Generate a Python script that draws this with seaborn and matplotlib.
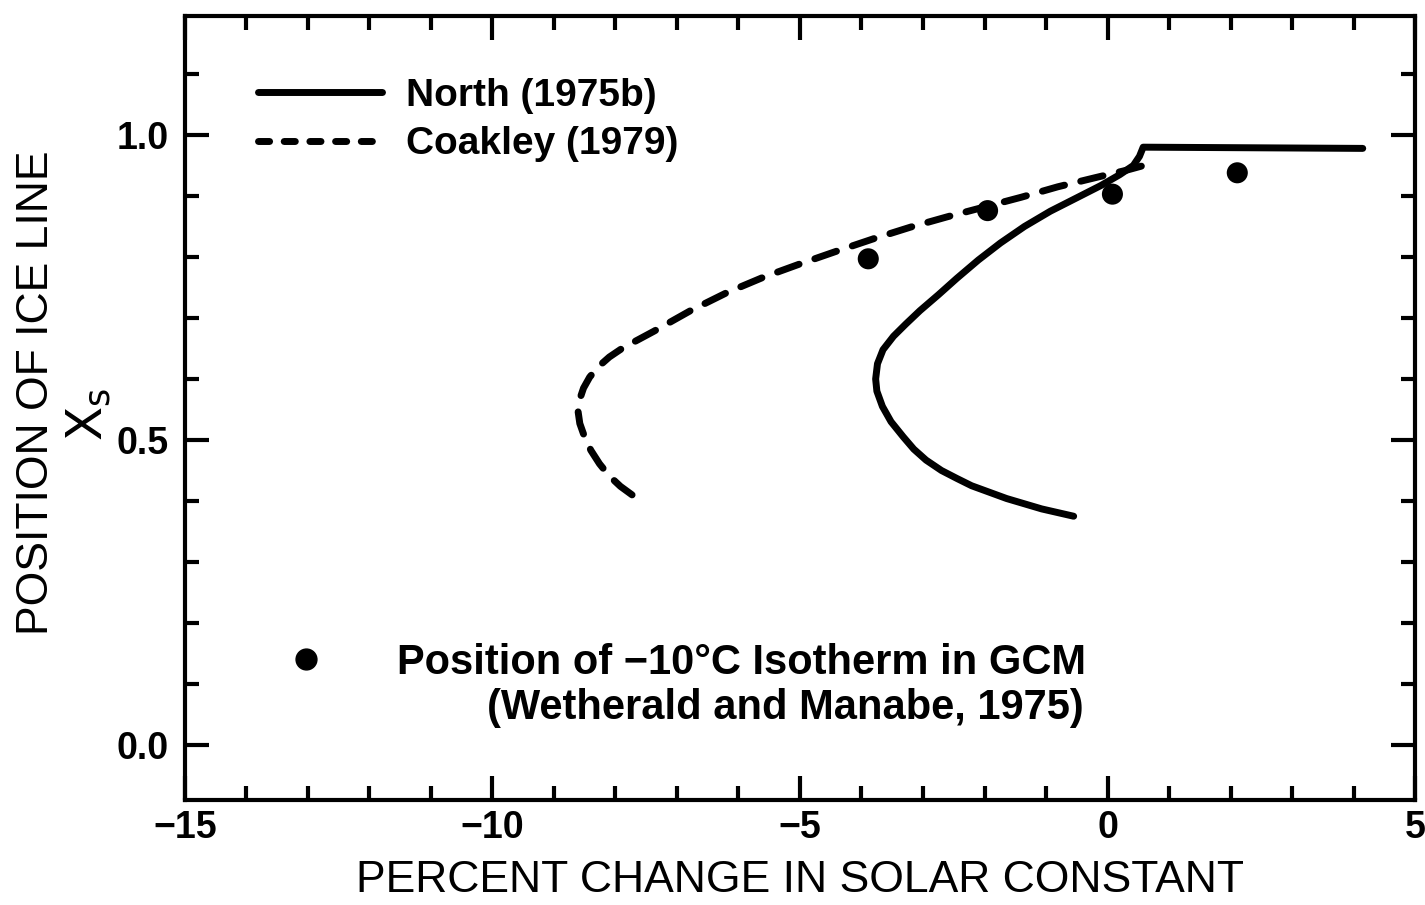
import numpy as np
import seaborn as sns
import matplotlib.pyplot as plt
from matplotlib.lines import Line2D
from matplotlib.ticker import MultipleLocator, FormatStrFormatter

# North (1975b) energy-balance solution (bottom branch -> top -> plateau)
north_x = [-0.55, -1.07, -1.64, -2.21, -2.45, -2.70, -2.95, -3.15, -3.32, -3.52, -3.66,
           -3.75, -3.77, -3.74, -3.65, -3.48, -3.28, -3.05, -2.75, -2.45, -2.10, -1.74,
           -1.35, -0.93, -0.50, -0.11, 0.20, 0.42, 0.52, 0.58, 4.15]
north_y = [0.375, 0.387, 0.404, 0.425, 0.437, 0.450, 0.467, 0.485, 0.505, 0.530, 0.555,
           0.580, 0.600, 0.625, 0.648, 0.670, 0.690, 0.712, 0.738, 0.765, 0.795, 0.823,
           0.850, 0.875, 0.897, 0.917, 0.935, 0.950, 0.965, 0.980, 0.978]

# Coakley (1979)
coakley_x = [-7.73, -7.92, -8.10, -8.26, -8.40, -8.51, -8.58, -8.61, -8.58, -8.52, -8.42,
             -8.28, -8.10, -7.88, -7.62, -7.38, -6.78, -6.18, -5.59, -4.99, -4.39, -3.80,
             -3.20, -2.60, -2.00, -1.40, -0.81, -0.20, 0.30, 0.70]
coakley_y = [0.410, 0.424, 0.441, 0.461, 0.483, 0.507, 0.527, 0.548, 0.567, 0.585, 0.603,
             0.620, 0.636, 0.651, 0.665, 0.678, 0.712, 0.742, 0.767, 0.789, 0.810, 0.830,
             0.849, 0.866, 0.882, 0.898, 0.915, 0.930, 0.942, 0.953]

# GCM -10C isotherm (Wetherald and Manabe, 1975)
gcm_x = [-3.89, -1.95, 0.08, 2.11]
gcm_y = [0.797, 0.876, 0.903, 0.938]

sns.set_style("ticks")
plt.rcParams["font.family"] = ["Liberation Sans", "DejaVu Sans"]
plt.rcParams.update({"text.color": "black", "axes.labelcolor": "black",
                     "xtick.color": "black", "ytick.color": "black"})

fig = plt.figure(figsize=(14.25, 9.05), dpi=100)
ax = fig.add_axes([0.1298, 0.1160, 0.8632, 0.8663])

LW = 5
sns.lineplot(x=north_x, y=north_y, sort=False, estimator=None, color="black",
             lw=LW, solid_capstyle="round", solid_joinstyle="round", ax=ax)
sns.lineplot(x=coakley_x, y=coakley_y, sort=False, estimator=None, color="black",
             lw=LW, linestyle=(0, (3.3, 2.4)), dash_capstyle="round", ax=ax)
sns.scatterplot(x=gcm_x, y=gcm_y, color="black", s=230, edgecolor="none", ax=ax)

ax.set_xlim(-15, 5)
ax.set_ylim(-0.0902, 1.195)

# ticks: inward on all four sides
ax.xaxis.set_major_locator(MultipleLocator(5))
ax.xaxis.set_minor_locator(MultipleLocator(1))
ax.yaxis.set_major_locator(MultipleLocator(0.5))
ax.yaxis.set_minor_locator(MultipleLocator(0.1))
ax.yaxis.set_major_formatter(FormatStrFormatter("%.1f"))
ax.tick_params(which="both", direction="in", top=True, right=True, width=3, color="black")
ax.tick_params(which="major", length=17)
ax.tick_params(which="minor", length=10)
ax.tick_params(axis="x", which="major", pad=7, labelsize=27)
ax.tick_params(axis="y", which="major", pad=12, labelsize=27)
for lab in ax.get_xticklabels() + ax.get_yticklabels():
    lab.set_fontweight("bold")
for sp in ax.spines.values():
    sp.set_visible(True)
    sp.set_linewidth(3)
    sp.set_color("black")

ax.set_xlabel("PERCENT CHANGE IN SOLAR CONSTANT", fontsize=32)
ax.xaxis.set_label_coords(0.5, -0.076)
ax.set_ylabel("POSITION OF ICE LINE", fontsize=32)
ax.yaxis.set_label_coords(-0.104, 0.52)
ax.text(-0.078, 0.492, r"$\mathrm{X_s}$", rotation=90, transform=ax.transAxes,
        ha="center", va="center", fontsize=36)

# legend for the two curves
handles = [Line2D([], [], color="black", lw=LW, solid_capstyle="round"),
           Line2D([], [], color="black", lw=LW, linestyle=(0, (1.6, 2.1)),
                  dash_capstyle="round")]
leg1 = ax.legend(handles, ["North (1975b)", "Coakley (1979)"], loc="upper left",
                 bbox_to_anchor=(0.0593, 0.921), frameon=False, borderpad=0,
                 borderaxespad=0, handlelength=3.2, handletextpad=0.6,
                 labelspacing=0.32, prop={"size": 28, "weight": "bold"})
ax.add_artist(leg1)

# legend for the GCM dots
dot = Line2D([], [], color="black", marker="o", markersize=15, linestyle="none")
ax.legend([dot], ["Position of \u221210\u00b0C Isotherm in GCM"], loc="center left",
          bbox_to_anchor=(0.0813, 0.175), frameon=False, borderpad=0, borderaxespad=0,
          handlelength=1.0, handletextpad=1.7, prop={"size": 30, "weight": "bold"})
ax.text(0.2455, 0.117, "(Wetherald and Manabe, 1975)", transform=ax.transAxes,
        ha="left", va="center", fontsize=30, fontweight="bold")

fig.savefig("out.png", dpi=100)
